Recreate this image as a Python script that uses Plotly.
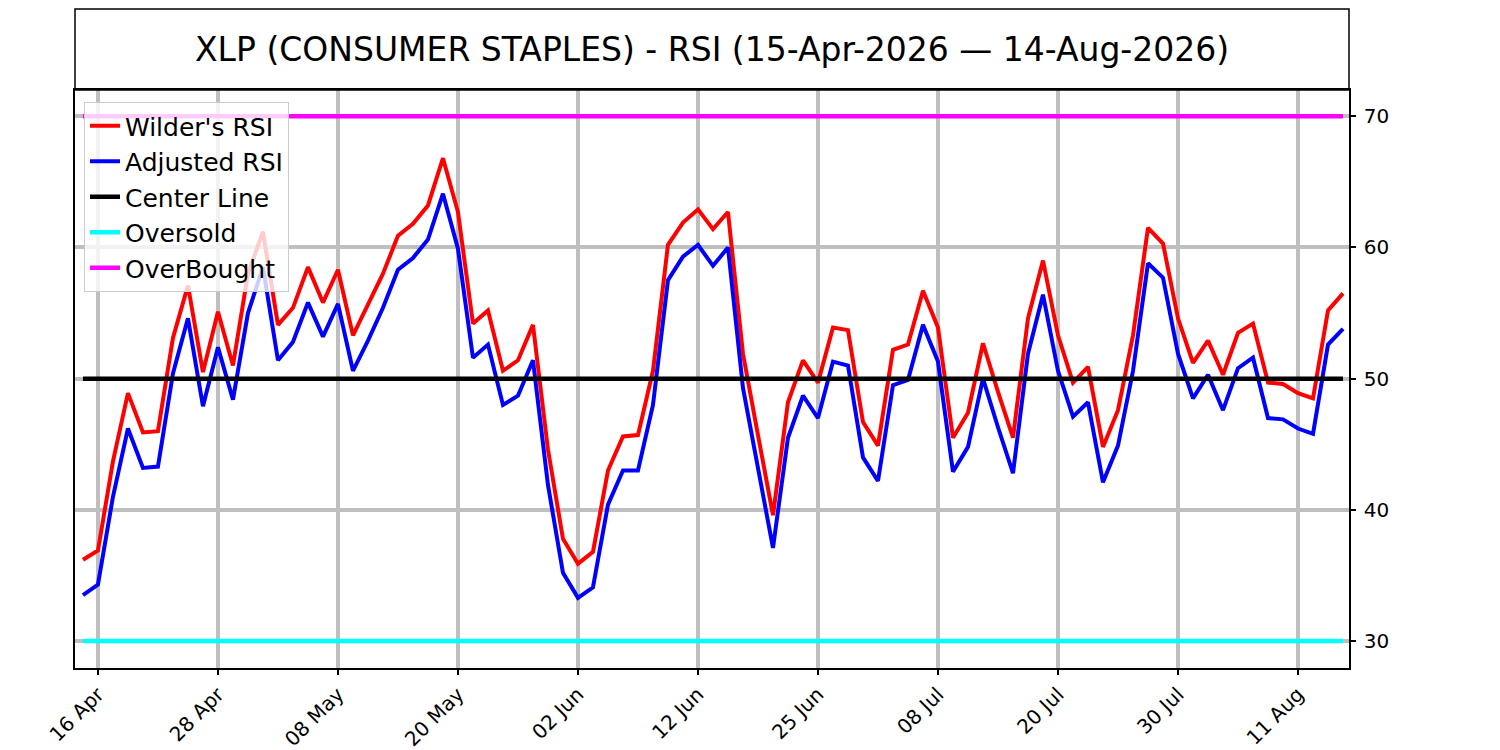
import plotly.graph_objects as go

title_text = "XLP (CONSUMER STAPLES) - RSI (15-Apr-2026 — 14-Aug-2026)"

wilder_rsi = [36.2, 36.9, 43.7, 48.9, 45.9, 46.0, 53.1, 57.1, 50.5, 55.1,
              51.0, 58.0, 61.2, 54.1, 55.4, 58.5, 55.8, 58.3, 53.3, 55.6,
              58.0, 60.9, 61.8, 63.2, 66.8, 62.7, 54.2, 55.2, 50.6, 51.4,
              54.1, 44.6, 37.8, 35.9, 36.8, 43.0, 45.6, 45.7, 50.6, 60.2,
              61.9, 62.9, 61.4, 62.7, 51.9, 45.7, 39.6, 48.2, 51.4, 49.7,
              53.9, 53.7, 46.7, 44.9, 52.2, 52.6, 56.7, 53.9, 45.5, 47.4,
              52.7, 49.0, 45.5, 54.6, 59.0, 53.3, 49.7, 50.9, 44.8, 47.6,
              53.3, 61.5, 60.3, 54.6, 51.2, 52.9, 50.3, 53.5, 54.2, 49.7,
              49.6, 48.9, 48.5, 55.2, 56.5]

adjusted_rsi = [33.5, 34.3, 41.0, 46.2, 43.2, 43.3, 50.4, 54.6, 47.9, 52.4,
                48.4, 55.0, 58.5, 51.4, 52.8, 55.8, 53.2, 55.7, 50.6, 52.9,
                55.4, 58.3, 59.2, 60.6, 64.1, 59.9, 51.6, 52.6, 48.0, 48.7,
                51.4, 41.9, 35.2, 33.3, 34.1, 40.4, 43.0, 43.0, 48.0, 57.5,
                59.3, 60.2, 58.6, 60.0, 49.3, 43.1, 37.1, 45.5, 48.7, 47.0,
                51.3, 51.0, 44.0, 42.2, 49.5, 49.9, 54.1, 51.3, 42.9, 44.8,
                50.0, 46.3, 42.8, 51.9, 56.4, 50.6, 47.1, 48.2, 42.1, 44.9,
                50.6, 58.8, 57.7, 51.9, 48.5, 50.3, 47.6, 50.8, 51.6, 47.0,
                46.9, 46.2, 45.8, 52.6, 53.8]

tick_index = [1, 9, 17, 25, 33, 41, 49, 57, 65, 73, 81]
tick_labels = ["16 Apr", "28 Apr", "08 May", "20 May", "02 Jun", "12 Jun",
               "25 Jun", "08 Jul", "20 Jul", "30 Jul", "11 Aug"]

center_level = 50
oversold_level = 30
overbought_level = 70

x = list(range(len(wilder_rsi)))
n = len(x)

FONT = "DejaVu Sans"

fig = go.Figure()
fig.add_trace(go.Scatter(x=x, y=wilder_rsi, mode="lines", name="Wilder's RSI", legendgroup="a",
                         line=dict(color="#ff0000", width=4)))
fig.add_trace(go.Scatter(x=x, y=adjusted_rsi, mode="lines", name="Adjusted RSI", legendgroup="b",
                         line=dict(color="#0000ff", width=4)))
fig.add_trace(go.Scatter(x=x, y=[center_level] * n, mode="lines", name="Center Line", legendgroup="c",
                         line=dict(color="#000000", width=4.5)))
fig.add_trace(go.Scatter(x=x, y=[oversold_level] * n, mode="lines", name="Oversold", legendgroup="d",
                         line=dict(color="#00ffff", width=4.5)))
fig.add_trace(go.Scatter(x=x, y=[overbought_level] * n, mode="lines", name="OverBought", legendgroup="e",
                         line=dict(color="#ff00ff", width=4.5)))

M_L, M_R, M_T, M_B = 67, 159, 82, 90
plot_h = 750 - M_T - M_B
plot_w = 1500 - M_L - M_R
box_top = 1 + 81 / plot_h

fig.add_shape(type="rect", xref="paper", yref="paper", x0=0, x1=1, y0=1, y1=box_top,
              line=dict(color="black", width=1.5), fillcolor="rgba(0,0,0,0)", layer="above")
fig.add_annotation(xref="paper", yref="paper", x=0.5, y=(1 + box_top) / 2,
                   text=title_text, showarrow=False, xanchor="center", yanchor="middle",
                   font=dict(family=FONT, size=33, color="black"))

fig.update_layout(
    width=1500, height=750,
    margin=dict(l=M_L, r=M_R, t=M_T, b=M_B, autoexpand=False),
    paper_bgcolor="white", plot_bgcolor="white",
    font=dict(family=FONT, color="black"),
    showlegend=True,
    legend=dict(x=9 / plot_w, y=1 - 12 / plot_h, xanchor="left", yanchor="top",
                bgcolor="rgba(255,255,255,0.8)", bordercolor="#cccccc", borderwidth=1,
                font=dict(family=FONT, size=25, color="black"),
                itemwidth=30, tracegroupgap=5, traceorder="normal"),
    xaxis=dict(range=[-0.53, 84.4], tickmode="array", tickvals=tick_index, ticktext=tick_labels,
               tickangle=-45, showgrid=True, gridcolor="#bfbfbf", gridwidth=3.5,
               zeroline=False, showline=True, linecolor="black", linewidth=1.5, mirror=True,
               ticks="outside", ticklen=5, tickwidth=1.5, tickcolor="black", automargin=False,
               tickfont=dict(family=FONT, size=20, color="black")),
    yaxis=dict(range=[27.95, 72.0], side="right", tickmode="array",
               tickvals=[30, 40, 50, 60, 70], ticktext=["30", "40", "50", "60", "70"],
               showgrid=True, gridcolor="#bfbfbf", gridwidth=3.5,
               zeroline=False, showline=True, linecolor="black", linewidth=1.5, mirror=True,
               ticks="outside", ticklen=5, tickwidth=1.5, tickcolor="black", automargin=False,
               ticklabelstandoff=4,
               tickfont=dict(family=FONT, size=20, color="black")),
)

fig.write_html("out.html")
